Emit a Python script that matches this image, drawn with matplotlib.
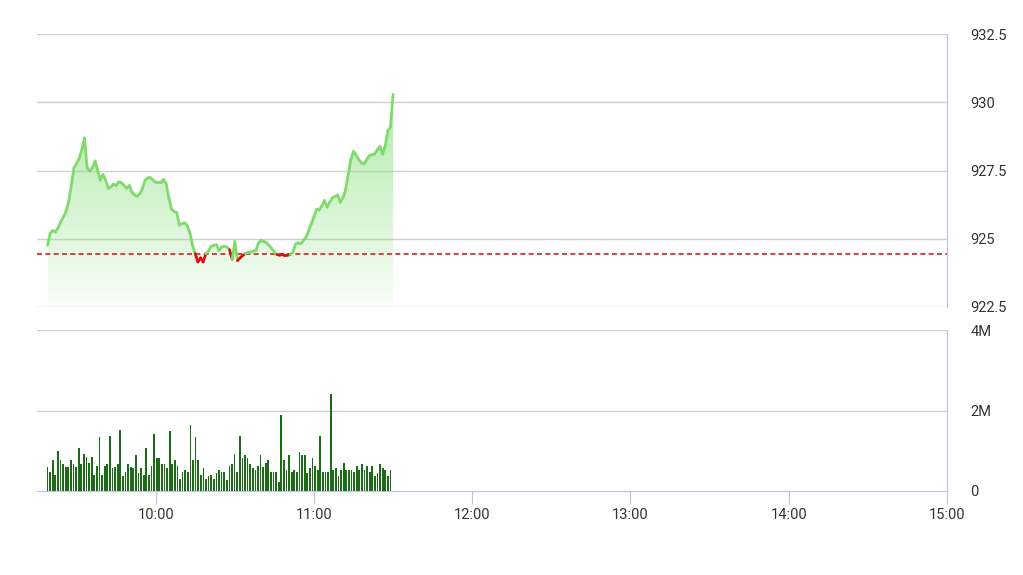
import numpy as np
import matplotlib
matplotlib.use("Agg")
from matplotlib import pyplot as plt
from matplotlib.collections import LineCollection
from matplotlib.path import Path
from matplotlib.patches import PathPatch

plt.rcParams['font.family'] = ['Roboto', 'DejaVu Sans']

# price, one value per minute starting 9:19
price = [924.76, 925.20, 925.30, 925.25, 925.40, 925.62, 925.80, 926.00, 926.35, 926.95,
         927.60, 927.75, 927.95, 928.25, 928.69, 927.60, 927.48, 927.60, 927.85, 927.50,
         927.15, 927.35, 927.15, 926.85, 926.90, 927.00, 926.95, 927.08, 927.05, 926.95,
         926.85, 926.95, 926.70, 926.60, 926.56, 926.65, 926.85, 927.15, 927.23, 927.24,
         927.15, 927.07, 927.07, 927.07, 927.17, 927.00, 926.50, 926.08, 926.00, 925.95,
         925.50, 925.55, 925.58, 925.48, 925.20, 924.75, 924.45, 924.15, 924.30, 924.15,
         924.45, 924.55, 924.72, 924.76, 924.78, 924.57, 924.70, 924.72, 924.70, 924.60,
         924.25, 924.90, 924.20, 924.30, 924.39, 924.45, 924.50, 924.51, 924.55, 924.57,
         924.85, 924.94, 924.90, 924.85, 924.75, 924.64, 924.51, 924.42, 924.40, 924.42,
         924.38, 924.40, 924.42, 924.50, 924.80, 924.85, 924.82, 924.95, 925.05, 925.30,
         925.55, 925.80, 926.08, 926.05, 926.20, 926.40, 926.16, 926.35, 926.50, 926.55,
         926.60, 926.34, 926.50, 926.80, 927.37, 927.90, 928.20, 928.05, 927.90, 927.78,
         927.74, 927.90, 928.04, 928.08, 928.10, 928.25, 928.38, 928.10, 928.40, 928.95,
         929.10, 930.29]

# volume in millions, one bar per minute starting 9:19
volume = [0.60, 0.48, 0.77, 0.39, 1.00, 0.77, 0.68, 0.60, 0.60, 0.77,
          0.67, 0.60, 1.06, 0.67, 0.92, 0.85, 0.70, 0.85, 0.39, 0.62,
          1.35, 0.39, 0.62, 0.67, 1.37, 0.56, 0.60, 0.67, 1.52, 0.37,
          0.48, 0.67, 0.60, 0.58, 0.89, 0.45, 0.58, 0.39, 1.06, 0.39,
          0.62, 1.42, 0.83, 0.83, 0.67, 0.67, 0.58, 1.49, 0.67, 0.77,
          0.62, 0.31, 0.48, 0.52, 0.48, 1.64, 0.77, 1.35, 0.77, 0.39,
          0.58, 0.31, 0.37, 0.39, 0.31, 0.45, 0.53, 0.48, 0.48, 0.28,
          0.62, 0.67, 0.92, 0.48, 1.37, 0.83, 0.89, 0.83, 0.68, 0.56,
          0.53, 0.62, 0.89, 0.60, 0.70, 0.77, 0.48, 0.48, 0.48, 0.22,
          1.89, 0.77, 0.52, 0.89, 0.48, 0.52, 0.48, 0.97, 0.89, 0.89,
          0.45, 0.58, 0.83, 0.62, 0.53, 1.37, 0.48, 0.48, 0.48, 2.42,
          0.52, 0.58, 0.37, 0.52, 0.70, 0.52, 0.52, 0.52, 0.48, 0.62,
          0.52, 0.68, 0.52, 0.62, 0.48, 0.62, 0.37, 0.45, 0.67, 0.58,
          0.53, 0.37, 0.52]

ref_price = 924.45
price_ticks = [922.5, 925, 927.5, 930, 932.5]
price_labels = ["922.5", "925", "927.5", "930", "932.5"]
vol_ticks = [0, 2, 4]
vol_labels = ["0", "2M", "4M"]
time_ticks = ["10:00", "11:00", "12:00", "13:00", "14:00", "15:00"]

# x in minutes after 9:00
t_price = 19 + np.arange(len(price))
t_vol = 19 + np.arange(len(volume)) * (130.0 / (len(volume) - 1))
tick_pos = [int(s.split(":")[0]) * 60 + int(s.split(":")[1]) - 540 for s in time_ticks]
xmin, xmax = 15, 360

grid_c = "#cfcfd4"
spine_c = "#b9c2e4"
text_c = "#333333"

fig = plt.figure(figsize=(10.23, 5.75), dpi=100)
ax = fig.add_axes([37 / 1023, 1 - 307 / 575, 910 / 1023, 273 / 575])
axv = fig.add_axes([37 / 1023, 1 - 491 / 575, 910 / 1023, 161 / 575])

# ---- price panel
ax.set_xlim(xmin, xmax)
ax.set_ylim(922.5, 932.5)
for y in price_ticks:
    ax.axhline(y, color=grid_c, lw=1, zorder=0)

# gradient fill under the line
verts = list(zip(t_price, price)) + [(t_price[-1], 922.5), (t_price[0], 922.5)]
clip = PathPatch(Path(verts), facecolor="none", edgecolor="none")
ax.add_patch(clip)
grad = np.zeros((100, 1, 4))
grad[..., 0] = 0.50
grad[..., 1] = 0.87
grad[..., 2] = 0.45
grad[:, 0, 3] = np.linspace(0.62, 0.05, 100)
im = ax.imshow(grad, extent=[t_price[0], t_price[-1], 922.5, max(price)],
               origin="upper", aspect="auto", zorder=1, interpolation="bilinear")
im.set_clip_path(clip)

ax.axhline(ref_price, color="#e21b1b", lw=1.2, ls=(0, (3, 2)), zorder=3)

pts = np.column_stack([t_price, price])
segs = np.stack([pts[:-1], pts[1:]], axis=1)
mid = (np.array(price[:-1]) + np.array(price[1:])) / 2
cols = ["#e00d0d" if m < ref_price else "#7fdc6c" for m in mid]
ax.add_collection(LineCollection(segs, colors=cols, linewidths=2.0, zorder=4,
                                 capstyle="round", joinstyle="round"))

ax.yaxis.tick_right()
ax.set_yticks(price_ticks)
ax.set_yticklabels(price_labels)
ax.set_xticks([])
for s in ["left", "top", "bottom"]:
    ax.spines[s].set_visible(False)
ax.spines["right"].set_color(spine_c)
ax.tick_params(axis="y", length=0, pad=17, labelsize=10.5, labelcolor=text_c)

# ---- volume panel
axv.set_xlim(xmin, xmax)
axv.set_ylim(0, 4)
for y in [2, 4]:
    axv.axhline(y, color=grid_c, lw=1, zorder=0)
axv.bar(t_vol, volume, width=0.65, color="#1b6b17", zorder=2)
axv.yaxis.tick_right()
axv.set_yticks(vol_ticks)
axv.set_yticklabels(vol_labels)
axv.set_xticks(tick_pos)
axv.set_xticklabels(time_ticks)
for s in ["left", "top"]:
    axv.spines[s].set_visible(False)
axv.spines["right"].set_color(spine_c)
axv.spines["bottom"].set_color(spine_c)
axv.tick_params(axis="y", length=0, pad=17, labelsize=10.5, labelcolor=text_c)
axv.tick_params(axis="x", length=9, color=spine_c, pad=3, labelsize=10.5, labelcolor=text_c)

fig.savefig("out.png", dpi=100)
